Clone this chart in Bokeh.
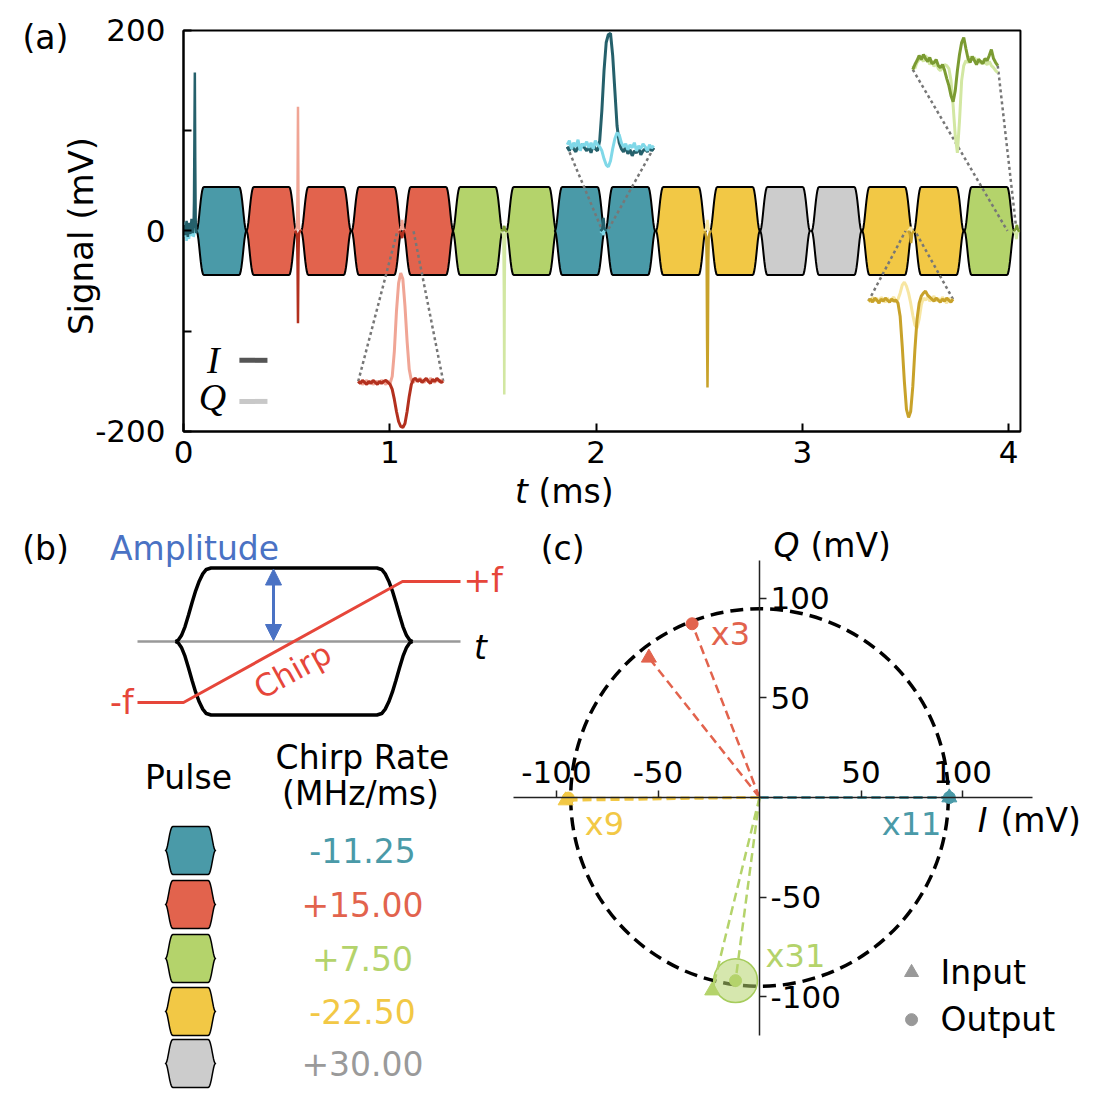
import math
from bokeh.plotting import figure
from bokeh.layouts import column, row
from bokeh.models import Range1d, Label, FixedTicker, Arrow, NormalHead
from bokeh.embed import file_html
from bokeh.resources import INLINE

FONT = "DejaVu Sans"

# ---------------- colours ----------------
FILL = {"teal": "#4a9aa8", "red": "#e2634d", "green": "#b4d36b",
        "yellow": "#f2c845", "gray": "#cccccc"}
DARK = {"teal": "#25606b", "red": "#b3301e", "green": "#7b9b32", "yellow": "#c8a22a"}
LIGHT = {"teal": "#80d8e8", "red": "#f0a595", "green": "#d2e7a2", "yellow": "#f7e6a2"}
TEXTC = {"teal": "#4a9aa8", "red": "#e2634d", "green": "#b4d36b",
         "yellow": "#f2c845", "gray": "#9a9a9a"}

# ---------------- panel (a) data ----------------
X_TICKS = [0, 1, 2, 3, 4]
Y_TICKS = [-200, -100, 0, 100, 200]
T_MAX = 4.057
SIG_LIM = 200

PULSE_SEQUENCE = ["teal", "red", "red", "red", "red", "green", "green", "teal",
                  "teal", "yellow", "yellow", "gray", "gray", "yellow", "yellow", "green"]
PULSE_START = [0.063, 0.305, 0.570, 0.815, 1.066, 1.305, 1.565, 1.800,
               2.045, 2.290, 2.552, 2.795, 3.045, 3.290, 3.540, 3.785]
PULSE_WIDTH = 0.242
PULSE_AMPLITUDE = 44

# normalised pulse envelope (fraction of pulse length, fraction of amplitude)
ENV_U = [0, 0.012, 0.025, 0.04, 0.055, 0.07, 0.085, 0.10, 0.115, 0.13, 0.15,
         0.85, 0.87, 0.885, 0.90, 0.915, 0.93, 0.945, 0.96, 0.975, 0.988, 1]
ENV_A = [0, 0.02, 0.08, 0.2, 0.36, 0.53, 0.69, 0.82, 0.92, 0.98, 1.0,
         1.0, 0.98, 0.92, 0.82, 0.69, 0.53, 0.36, 0.2, 0.08, 0.02, 0]

# echoes in the main trace
ECHO_T = [0.055, 0.555, 1.06, 1.555, 2.036, 2.54, 3.527, 4.04]
ECHO_COLOR = ["teal", "red", "red", "green", "teal", "yellow", "yellow", "green"]
DT_STD = [-0.015, -0.01, -0.006, -0.004, -0.002, 0, 0.002, 0.004, 0.006, 0.01, 0.015]
DT_FIRST = [-0.052, -0.046, -0.04, -0.034, -0.028, -0.022, -0.016, -0.01,
            -0.006, -0.004, -0.002, 0, 0.002, 0.004, 0.006, 0.01]
ECHO_DT = [DT_FIRST] + [DT_STD] * 7
ECHO_I = [
    [6, -4, 10, -6, 8, -3, 12, -2, 5, 30, 95, 158, 70, 12, -2, 0],
    [0, -1, -3, -8, -35, -92, -30, -6, -2, 0, 0],
    [0, -1, -2, -4, -6, -7, -5, -3, -1, 0, 0],
    [0, 1, 1, 2, 4, 5, 3, 1, 0, 0, 0],
    [0, 1, 2, 5, 10, 13, 9, 4, 2, 1, 0],
    [0, -2, -6, -30, -110, -156, -110, -30, -6, -2, 0],
    [0, -1, -3, -6, -10, -12, -9, -5, -2, -1, 0],
    [0, 1, 2, 3, 5, 6, 4, 2, 1, 0, 0],
]
ECHO_Q = [
    [-6, 9, -10, 4, -8, 7, -5, 3, -6, -4, -2, 0, 2, -1, 1, 0],
    [0, 1, 3, 8, 45, 124, 40, 6, 2, 1, 0],
    [0, 1, 2, 5, 9, 11, 8, 4, 2, 1, 0],
    [0, -1, -3, -10, -60, -163, -55, -8, -2, -1, 0],
    [0, -1, -1, -2, -3, -4, -2, 1, 2, 1, 0],
    [0, 1, 3, 6, 9, 11, 8, 4, 1, 0, 0],
    [0, 1, 2, 3, 4, 3, 1, -1, -2, -1, 0],
    [0, -2, -4, -7, -8, -5, -2, 0, 1, 0, 0],
]

# magnified insets (values as drawn, mV)
INSET_ECHO = [2, 4, 6, 7]
INSET_COLOR = ["red", "teal", "yellow", "green"]
INSET_T0 = [0.847, 1.860, 3.320, 3.535]
INSET_T1 = [1.259, 2.280, 3.730, 3.947]
INSET_N = 41
INSET_WINDOW = [(1.037, 1.115), (2.031, 2.055), (3.500, 3.546), (3.994, 4.038)]
INSET_I = [
    [-150, -152, -149, -151, -153, -150, -152, -149, -151, -153, -150, -152, -150, -149, -151,
     -153, -158, -168, -180, -190, -195, -196, -192, -180, -165, -153, -148, -147, -150, -148,
     -151, -149, -147, -150, -152, -148, -150, -147, -149, -151, -150],
    [84, 80, 86, 82, 79, 85, 81, 87, 83, 80, 84, 78, 86, 82, 80, 90, 120, 160, 188, 196,
     197, 175, 140, 105, 88, 82, 79, 84, 77, 81, 75, 80, 78, 83, 76, 80, 82, 79, 84, 80, 83],
    [-70, -68, -71, -67, -69, -72, -68, -70, -67, -69, -71, -68, -70, -69, -72, -85, -115, -150,
     -178, -186, -180, -155, -118, -88, -72, -65, -62, -60, -64, -66, -68, -70, -67, -69, -71,
     -68, -70, -67, -69, -71, -68],
    [161, 166, 170, 175, 171, 176, 172, 169, 173, 167, 168, 171, 165, 163, 166, 160, 152, 145,
     135, 129, 140, 160, 176, 188, 193, 182, 172, 168, 174, 170, 166, 171, 169, 167, 172, 170,
     175, 181, 172, 168, 165],
]
INSET_Q = [
    [-152, -150, -153, -151, -149, -152, -150, -153, -151, -150, -152, -149, -151, -153, -150,
     -152, -145, -120, -80, -52, -42, -48, -75, -110, -138, -149, -151, -148, -150, -147, -149,
     -151, -148, -150, -147, -149, -151, -148, -150, -149, -151],
    [86, 90, 82, 88, 84, 91, 80, 87, 85, 89, 83, 88, 82, 90, 86, 84, 80, 72, 66, 64, 70, 82,
     92, 98, 96, 88, 84, 87, 81, 86, 83, 88, 80, 85, 82, 87, 84, 80, 86, 83, 85],
    [-68, -71, -66, -70, -67, -72, -66, -69, -71, -67, -70, -68, -66, -71, -68, -62, -54, -51,
     -55, -62, -72, -84, -94, -97, -88, -74, -67, -69, -66, -70, -68, -65, -70, -67, -71, -66,
     -69, -72, -67, -70, -68],
    [165, 162, 168, 171, 173, 169, 175, 172, 166, 170, 164, 168, 162, 160, 163, 166, 165, 162,
     150, 125, 95, 78, 110, 150, 165, 170, 168, 174, 171, 173, 169, 172, 167, 170, 168, 166,
     169, 165, 163, 160, 158],
]

# ---------------- panel (b) data ----------------
TABLE_COLORS = ["teal", "red", "green", "yellow", "gray"]
CHIRP_RATES = ["-11.25", "+15.00", "+7.50", "-22.50", "+30.00"]

# ---------------- panel (c) data ----------------
C_TICKS = [-100, -50, 50, 100]
C_SERIES = ["teal", "red", "green", "yellow"]
C_FACTOR = ["x11", "x3", "x31", "x9"]
IN_I = [93.5, -54.5, -23.3, -95.5]
IN_Q = [0.0, 70.2, -97.0, -1.5]
OUT_I = [93.5, -33.2, -11.8, -94.2]
OUT_Q = [0.0, 87.3, -92.0, -0.3]
GREEN_SPREAD = 10.8
CIRCLE_R = 93.0
I_AXIS_BOUNDS = (-121.2, 134.5)
Q_AXIS_BOUNDS = (-119.6, 119.1)


def lab(p, x, y, text, size="33px", color="black", align="center", base="middle",
        font=FONT, style="normal", angle=0.0):
    p.add_layout(Label(x=x, y=y, text=text, text_font=font, text_font_size=size,
                       text_color=color, text_align=align, text_baseline=base,
                       text_font_style=style, angle=angle))


def style_axis(ax, size="31px", tick_in=0, tick_out=0, width=2, color="black", standoff=10):
    ax.major_tick_in = tick_in
    ax.major_tick_out = tick_out
    ax.minor_tick_line_color = None
    ax.axis_line_width = width
    ax.major_tick_line_width = width
    ax.axis_line_color = color
    ax.major_tick_line_color = color
    ax.major_label_text_font = FONT
    ax.major_label_text_font_size = size
    ax.major_label_text_color = "black"
    ax.major_label_standoff = standoff


# =============== PANEL (a) ===============
pa = figure(width=1110, height=510, x_range=Range1d(-0.887, 4.4935),
            y_range=Range1d(-278.8, 229.9), output_backend="svg", toolbar_location=None,
            min_border=0)
pa.grid.visible = False
pa.outline_line_color = None
pa.xaxis.fixed_location = -SIG_LIM
pa.xaxis.bounds = (0, T_MAX)
pa.yaxis.fixed_location = 0
pa.yaxis.bounds = (-SIG_LIM, SIG_LIM)
pa.xaxis.ticker = FixedTicker(ticks=X_TICKS)
pa.yaxis.ticker = FixedTicker(ticks=Y_TICKS)
pa.yaxis.major_label_overrides = {100: "", -100: "", -200: "-200"}
style_axis(pa.xaxis[0], tick_in=8, standoff=10)
style_axis(pa.yaxis[0], tick_in=8, standoff=18)

pa.quad(left=[0], right=[T_MAX], bottom=[-SIG_LIM], top=[SIG_LIM], fill_color=None,
        line_color="black", line_width=2)

xs, ys, cols = [], [], []
for s, name in zip(PULSE_START, PULSE_SEQUENCE):
    tx = [s + u * PULSE_WIDTH for u in ENV_U]
    top = [a * PULSE_AMPLITUDE for a in ENV_A]
    xs.append(tx + tx[::-1])
    ys.append(top + [-v for v in top[::-1]])
    cols.append(FILL[name])
pa.patches(xs, ys, fill_color=cols, line_color="black", line_width=2, line_join="round")

# connectors
for k, e in enumerate(INSET_ECHO):
    w0, w1 = INSET_WINDOW[k]
    pa.segment(x0=[INSET_T0[k], INSET_T1[k]], y0=[INSET_I[k][0], INSET_I[k][-1]],
               x1=[w0, w1], y1=[0, 0], line_color="#777777", line_width=2.5,
               line_dash="3 3")

# echo traces
for t0, c, dts, iv, qv in zip(ECHO_T, ECHO_COLOR, ECHO_DT, ECHO_I, ECHO_Q):
    tt = [t0 + d for d in dts]
    pa.line(tt, qv, line_color=LIGHT[c], line_width=2.5)
    pa.line(tt, iv, line_color=DARK[c], line_width=2.5)

# insets
for k in range(4):
    c = INSET_COLOR[k]
    tt = [INSET_T0[k] + (INSET_T1[k] - INSET_T0[k]) * j / (INSET_N - 1) for j in range(INSET_N)]
    if c == "teal":
        pa.line(tt, INSET_I[k], line_color=DARK[c], line_width=3)
        pa.line(tt, INSET_Q[k], line_color=LIGHT[c], line_width=3)
    else:
        pa.line(tt, INSET_Q[k], line_color=LIGHT[c], line_width=3)
        pa.line(tt, INSET_I[k], line_color=DARK[c], line_width=3)

# I/Q legend
pa.segment(x0=[0.271, 0.271], y0=[-129, -170], x1=[0.407, 0.407], y1=[-129, -170],
           line_color=["#555555", "#c8c8c8"], line_width=5)
lab(pa, 0.145, -129, "I", size="38px", font="Liberation Serif", style="italic")
lab(pa, 0.141, -166, "Q", size="38px", font="Liberation Serif", style="italic")

lab(pa, -0.669, 192.5, "(a)")
lab(pa, -0.499, -5, "Signal (mV)", size="34px", angle=math.pi / 2)
lab(pa, 1.638, -260, "t", style="italic")
lab(pa, 1.721, -260, "(ms)", align="left")

# =============== PANEL (b) ===============
pb = figure(width=510, height=580, x_range=Range1d(-8, 502), y_range=Range1d(8, 588),
            x_axis_type=None, y_axis_type=None, output_backend="svg",
            toolbar_location=None, min_border=0)
pb.outline_line_color = None
pb.grid.visible = False

SCHEM_T = (167, 404)
SCHEM_Y0 = 457
SCHEM_AMP = 73.5
pb.line([129, 452], [SCHEM_Y0, SCHEM_Y0], line_color="#999999", line_width=2.5)
stx = [SCHEM_T[0] + u * (SCHEM_T[1] - SCHEM_T[0]) for u in ENV_U]
pb.line(stx, [SCHEM_Y0 + a * SCHEM_AMP for a in ENV_A], line_color="black", line_width=3.5)
pb.line(stx, [SCHEM_Y0 - a * SCHEM_AMP for a in ENV_A], line_color="black", line_width=3.5)
RED = "#e6463a"
BLUE = "#4a72c4"
pb.line([129, 175, 394, 452], [396, 396, 517, 517], line_color=RED, line_width=3)
pb.add_layout(Arrow(start=NormalHead(size=16, fill_color=BLUE, line_color=BLUE),
                    end=NormalHead(size=16, fill_color=BLUE, line_color=BLUE),
                    x_start=265, y_start=SCHEM_Y0 + 1, x_end=265, y_end=SCHEM_Y0 + SCHEM_AMP - 1,
                    line_color=BLUE, line_width=3))
lab(pb, 37, 550, "(b)")
lab(pb, 186, 550, "Amplitude", color=BLUE)
lab(pb, 472, 451, "t", style="italic")
lab(pb, 125, 396, "-f", color=RED, align="right")
lab(pb, 455, 518, "+f", color=RED, align="left")
lab(pb, 284, 428, "Chirp", color=RED, size="31px", angle=math.atan2(121, 219))

lab(pb, 180, 321, "Pulse")
lab(pb, 354, 341, "Chirp Rate")
lab(pb, 352, 305, "(MHz/ms)")
ROW_Y = [248, 194, 140, 87, 35]
ixs, iys, icols = [], [], []
for yc, c in zip(ROW_Y, TABLE_COLORS):
    tx = [157 + u * 50 for u in ENV_U]
    top = [yc + a * 24 for a in ENV_A]
    bot = [yc - a * 24 for a in ENV_A]
    ixs.append(tx + tx[::-1])
    iys.append(top + bot[::-1])
    icols.append(FILL[c])
pb.patches(ixs, iys, fill_color=icols, line_color="black", line_width=1.5, line_join="round")
for yc, c, txt in zip(ROW_Y, TABLE_COLORS, CHIRP_RATES):
    lab(pb, 354, yc, txt, color=TEXTC[c])

# =============== PANEL (c) ===============
pc = figure(width=600, height=580, x_range=Range1d(-122.66, 172.9), y_range=Range1d(-147.2, 144.2),
            x_axis_location="above", y_axis_location="right", output_backend="svg",
            toolbar_location=None, min_border=0)
pc.grid.visible = False
pc.outline_line_color = None
pc.xaxis.fixed_location = 0
pc.yaxis.fixed_location = 0
pc.xaxis.bounds = I_AXIS_BOUNDS
pc.yaxis.bounds = Q_AXIS_BOUNDS
for ax in (pc.xaxis[0], pc.yaxis[0]):
    ax.ticker = FixedTicker(ticks=C_TICKS)
    ax.major_label_overrides = {-100: "-100", -50: "-50"}
    style_axis(ax, tick_out=7, width=1.5, color="#222222", standoff=4)
pc.xaxis.major_label_standoff = 8

pc.circle(x=[0], y=[0], radius=CIRCLE_R, fill_color=None, line_color="black",
          line_width=3.5, line_dash="13 7")
gi = C_SERIES.index("green")
pc.circle(x=[OUT_I[gi]], y=[OUT_Q[gi]], radius=GREEN_SPREAD, fill_color=FILL["green"],
          fill_alpha=0.55, line_color="#a6cc5c", line_width=1.5)
for k, c in enumerate(C_SERIES):
    pc.segment(x0=[0, 0], y0=[0, 0], x1=[IN_I[k], OUT_I[k]], y1=[IN_Q[k], OUT_Q[k]],
               line_color=FILL[c], line_width=2.5, line_dash="9 5")
for k, c in enumerate(C_SERIES):
    pc.scatter([IN_I[k]], [IN_Q[k]], marker="triangle", size=15, fill_color=FILL[c],
               line_color=FILL[c])
    pc.scatter([OUT_I[k]], [OUT_Q[k]], marker="circle", size=12, fill_color=FILL[c],
               line_color=FILL[c])

FACTOR_POS = [(74.9, -13.1), (-14.3, 82.4), (17.7, -79.4), (-76.4, -13.1)]
for (fx, fy), c, txt in zip(FACTOR_POS, C_SERIES, C_FACTOR):
    lab(pc, fx, fy, txt, size="32px", color=TEXTC[c])

lab(pc, -97, 125.1, "(c)")
lab(pc, 13.3, 126.6, "Q", style="italic")
lab(pc, 25.1, 126.6, "(mV)", align="left")
lab(pc, 109.9, -11.6, "I", style="italic")
lab(pc, 118.7, -11.6, "(mV)", align="left")

pc.scatter([74.9], [-87.9], marker="triangle", size=14, fill_color="#999999", line_color="#999999")
pc.scatter([74.9], [-111.6], marker="circle", size=12, fill_color="#999999", line_color="#999999")
lab(pc, 89.2, -87.9, "Input", align="left")
lab(pc, 89.2, -111.6, "Output", align="left")

layout = column(pa, row(pb, pc))
open("out.html", "w").write(file_html(layout, INLINE))
